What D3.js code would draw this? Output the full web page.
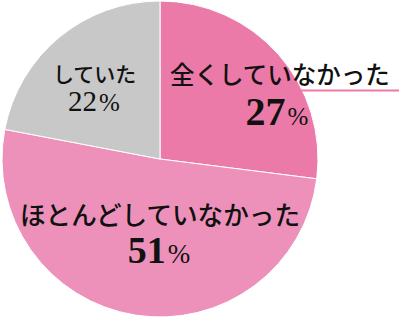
<!DOCTYPE html>
<html>
<head>
<meta charset="utf-8">
<script src="https://cdn.jsdelivr.net/npm/d3@7"></script>
<style>
  body { margin: 0; background: #fff; }
  svg { display: block; }
</style>
</head>
<body>
<div class="chart"></div>
<script>
// data
var categories = ["全くしていなかった", "ほとんどしていなかった", "していた"];
var values = [27, 51, 22];
var colors = ["#EB7AA9", "#EE91BA", "#C8C8C8"];

var width = 400, height = 318;
var cx = 160, cy = 159, radius = 158;

var svg = d3.select(".chart").append("svg")
    .attr("width", width)
    .attr("height", height);

var g = svg.append("g")
    .attr("transform", "translate(" + cx + "," + cy + ")");

var pie = d3.pie().sort(null).value(function(d) { return d; });
var arc = d3.arc().innerRadius(0).outerRadius(radius);

var arcs = pie(values);

g.selectAll("path")
    .data(arcs)
    .enter()
    .append("path")
    .attr("d", arc)
    .style("fill", function(d, i) { return colors[i]; })
    .style("stroke", "#fff")
    .style("stroke-width", 1);

// label layout (offsets from pie centre)
var labelLayout = [
  {name: [10, -75], nameSize: 24.5, nameWeight: 500, num: [117, -34], numSize: 40, pctSize: 25, bold: true, underline: true},
  {name: [-140, 66], nameSize: 25.6, nameWeight: 500, num: [-1, 104], numSize: 38, pctSize: 27, bold: true},
  {name: [-107, -77], nameSize: 21, nameWeight: 500, num: [-66, -48], numSize: 29, pctSize: 25, bold: false}
];

var jp = "'Noto Sans CJK JP', sans-serif";
var serif = "'Liberation Serif', 'DejaVu Serif', serif";

arcs.forEach(function(d, i) {
  var L = labelLayout[i];
  var t = g.append("text")
      .attr("x", L.name[0])
      .attr("y", L.name[1])
      .style("font-family", jp)
      .style("font-size", L.nameSize + "px")
      .style("font-weight", L.nameWeight)
      .style("fill", "#111")
      .text(categories[i]);

  if (L.underline) {
    var bb = t.node().getBBox();
    g.append("line")
        .attr("x1", bb.x)
        .attr("x2", width - cx - 1)
        .attr("y1", L.name[1] + 6.5)
        .attr("y2", L.name[1] + 6.5)
        .style("stroke", colors[i])
        .style("stroke-width", 2);
  }

  var n = g.append("text")
      .attr("x", L.num[0])
      .attr("y", L.num[1])
      .attr("text-anchor", "middle")
      .style("font-family", serif)
      .style("font-weight", L.bold ? "bold" : "normal")
      .style("fill", "#111");
  n.append("tspan")
      .style("font-size", L.numSize + "px")
      .text(values[i]);
  n.append("tspan")
      .attr("dx", 2)
      .style("font-size", L.pctSize + "px")
      .style("font-weight", "normal")
      .text("%");
});
</script>
</body>
</html>
